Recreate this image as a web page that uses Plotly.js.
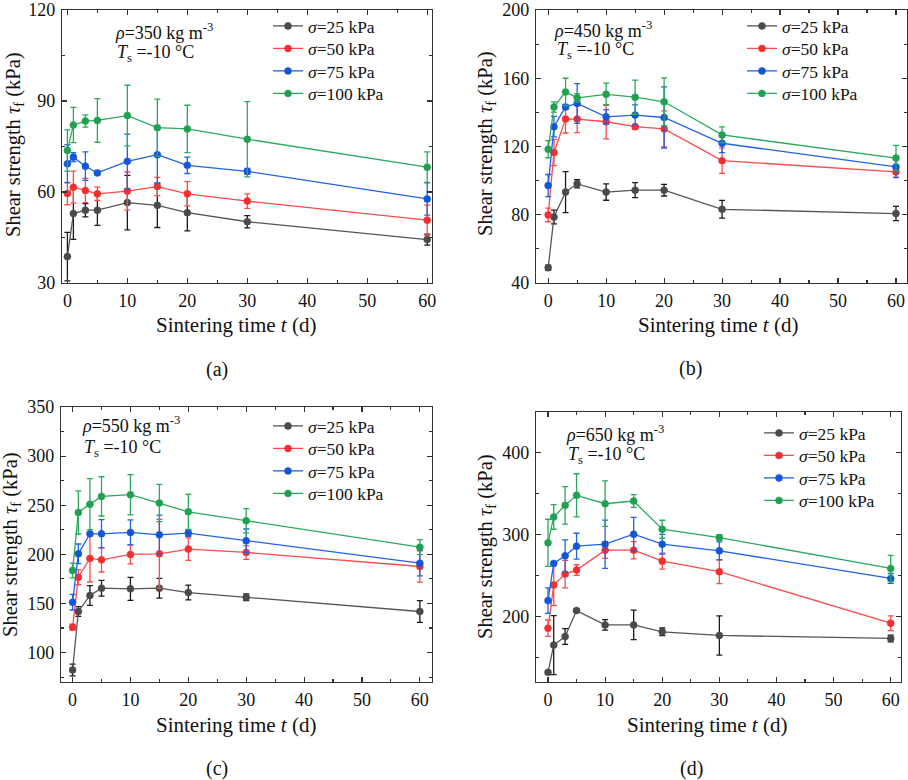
<!DOCTYPE html>
<html>
<head>
<meta charset="utf-8">
<script src="https://cdn.plot.ly/plotly-3.0.1.min.js"></script>
<style>
  body { margin: 0; padding: 0; background: #fff; }
  #chart { width: 908px; height: 780px; }
</style>
</head>
<body>
<div id="chart"></div>
<script>
// sintering time (d)
var t = [0, 1, 3, 5, 10, 15, 20, 30, 60];

var stressLabels = ['25', '50', '75', '100'];
var densityLabels = ['350', '450', '550', '650'];
var panelLabels = ['(a)', '(b)', '(c)', '(d)'];

// (a) rho = 350 kg m-3
var a25 = [38.7, 52.9, 54.0, 54.0, 56.5, 55.6, 53.2, 50.2, 44.3];
var a25err = [8, 8.5, 2.2, 5, 9, 7.3, 6, 2, 1.8];
var a50 = [59.5, 61.6, 60.5, 59.4, 60.3, 61.8, 59.4, 57.0, 50.7];
var a50err = [3.7, 5.3, 4, 2.2, 6.3, 3, 4, 2.4, 5];
var a75 = [69.3, 71.5, 68.5, 66.3, 70.1, 72.3, 68.8, 66.8, 57.7];
var a75err = [6.3, 1.5, 4.7, 0.6, 9, 9.5, 2.7, 1, 5.3];
var a100 = [73.7, 82.1, 83.4, 83.6, 85.2, 81.2, 80.8, 77.4, 68.2];
var a100err = [6.8, 5.8, 2, 7.2, 10, 9.4, 7.8, 12.4, 5];

// (b) rho = 450 kg m-3
var b25 = [48.9, 78.7, 93.3, 98.1, 93.3, 94.4, 94.4, 83.2, 80.7];
var b25err = [1.5, 4, 12, 2.4, 4.8, 4.4, 3.4, 5.2, 4.2];
var b50 = [79.9, 116.5, 136.1, 136.1, 134.5, 131.6, 130.3, 111.7, 105.1];
var b50err = [4, 7.7, 8.2, 8, 10, 1.5, 10.6, 7.5, 3];
var b75 = [97.1, 131.6, 143.2, 145.2, 137.4, 138.4, 137.0, 121.9, 108.0];
var b75err = [6.5, 6, 1.3, 11.6, 4.2, 6, 18, 5.5, 6.2];
var b100 = [118.4, 143.2, 152.0, 148.5, 150.6, 148.9, 146.2, 126.8, 113.2];
var b100err = [5, 3, 8, 2.5, 6.5, 10, 14, 4.7, 7.5];

// (c) rho = 550 kg m-3
var c25 = [82.3, 141.8, 158.1, 165.5, 164.9, 165.5, 161.1, 156.4, 141.8];
var c25err = [6, 5, 10, 8, 11.7, 10, 7.5, 3.4, 11];
var c50 = [125.8, 176.7, 195.8, 194.4, 199.9, 200.5, 205.3, 201.9, 187.6];
var c50err = [3, 7.7, 24, 12.4, 9.7, 35, 11.4, 7, 16];
var c75 = [151.3, 200.5, 220.9, 220.9, 222.3, 219.9, 221.6, 213.8, 191.0];
var c75err = [8, 10, 1.5, 14.4, 12.7, 20, 3.4, 12, 13];
var c100 = [183.6, 242.7, 251.1, 259.0, 260.7, 252.2, 243.3, 234.2, 207.3];
var c100err = [7.5, 22, 26, 20, 20.5, 19, 18, 12.4, 7.6];

// (d) rho = 650 kg m-3
var d25 = [131.8, 165.1, 175.6, 207.3, 189.8, 189.8, 181.3, 176.9, 173.2];
var d25err = [2, 36, 9.7, 2.2, 6.5, 18, 4.7, 24, 4.2];
var d50 = [185.8, 238.5, 251.9, 256.8, 281.1, 281.1, 267.7, 254.8, 191.9];
var d50err = [10, 25, 16.8, 6.5, 10, 10.5, 9.7, 14.6, 9];
var d75 = [219.5, 264.9, 274.2, 286.0, 288.4, 300.6, 288.4, 280.3, 246.6];
var d75err = [15.6, 1.6, 19.5, 15.8, 29.5, 20.7, 12, 11, 6];
var d100 = [290.1, 321.7, 335.9, 348.1, 337.9, 341.2, 306.7, 296.5, 258.8];
var d100err = [28.8, 15, 23, 26.4, 27.8, 7.7, 11, 3.5, 16];

var panels = [
  [[a25, a25err], [a50, a50err], [a75, a75err], [a100, a100err]],
  [[b25, b25err], [b50, b50err], [b75, b75err], [b100, b100err]],
  [[c25, c25err], [c50, c50err], [c75, c75err], [c100, c100err]],
  [[d25, d25err], [d50, d50err], [d75, d75err], [d100, d100err]]
];

var lineColors = ['#555555', '#ff4a4a', '#1f63e6', '#2aaa5c'];
var barColors = ['#1a1a1a', '#ff4a4a', '#1f63e6', '#2aaa5c'];
var markColors = ['#4a4a4a', '#f03030', '#1556d8', '#22a052'];

var W = 908, H = 780;
function px(x) { return x / W; }
function py(y) { return 1 - y / H; }

var serif = '"Liberation Serif", serif';

// plot frames in pixels: [left, right, top, bottom]
var frames = [[62, 432, 10, 283], [536, 907, 10, 283], [61, 432, 407, 682], [536, 901, 412, 682]];
var xRanges = [[-0.9, 60.8], [-2.1, 61.9], [-2, 62.1], [-2.1, 61.8]];
var yRanges = [[30, 120], [40, 200], [70, 350], [120, 450]];
var yDticks = [30, 40, 50, 100];

// legend: left x and first row centre y (px), row step 22.5 px
var legendPos = [[268, 25], [742, 25], [268, 425], [759, 432]];
var legendStep = 22.5;

var layout = {
  width: W, height: H,
  margin: {l: 0, r: 0, t: 0, b: 0},
  paper_bgcolor: '#fff', plot_bgcolor: '#fff',
  font: {family: serif, size: 18, color: '#111'},
  showlegend: true,
  annotations: []
};

var data = [];
panels.forEach(function (series, p) {
  var sfx = p === 0 ? '' : String(p + 1);
  series.forEach(function (s, k) {
    var n = p * 4 + k + 1;
    var lg = 'legend' + (n === 1 ? '' : String(n));
    data.push({
      type: 'scatter',
      mode: 'lines+markers',
      name: '<i>σ</i>=' + stressLabels[k] + ' kPa',
      x: t,
      y: s[0],
      error_y: {type: 'data', array: s[1], visible: true, color: barColors[k], thickness: 1.3, width: 3},
      line: {color: lineColors[k], width: 1.3},
      marker: {color: markColors[k], size: 7, line: {color: markColors[k], width: 0.5}},
      xaxis: 'x' + sfx,
      yaxis: 'y' + sfx,
      legend: lg,
      showlegend: true
    });
    layout[lg] = {
      x: px(legendPos[p][0]), y: py(legendPos[p][1] + k * legendStep - 17),
      xanchor: 'left', yanchor: 'top',
      bgcolor: 'rgba(0,0,0,0)', borderwidth: 0,
      font: {family: serif, size: 17.5, color: '#111'}
    };
  });
});

function axis(p, isX) {
  var f = frames[p];
  var a = {
    showline: true, linecolor: '#333', linewidth: 1.2, mirror: 'ticks',
    ticks: 'inside', ticklen: 5, tickwidth: 1.1, tickcolor: '#333',
    showgrid: false, zeroline: false, ticklabeloverflow: 'allow',
    tickfont: {family: serif, size: 18, color: '#111'},
    minor: {ticks: 'inside', ticklen: 3, tickcolor: '#333', showgrid: false}
  };
  if (isX) {
    a.domain = [px(f[0]), px(f[1])];
    a.range = xRanges[p];
    a.dtick = 10; a.tick0 = 0;
    a.minor.dtick = 5;
    a.ticklabelstandoff = 1;
  } else {
    a.domain = [py(f[3]), py(f[2])];
    a.range = yRanges[p];
    a.dtick = yDticks[p]; a.tick0 = 0;
    a.minor.dtick = yDticks[p] / 2;
    a.ticklabelstandoff = 2;
  }
  a.anchor = (isX ? 'y' : 'x') + (p === 0 ? '' : String(p + 1));
  return a;
}

for (var p = 0; p < 4; p++) {
  var sfx = p === 0 ? '' : String(p + 1);
  layout['xaxis' + sfx] = axis(p, true);
  layout['yaxis' + sfx] = axis(p, false);
}

// text positions in pixels
var rhoPos = [[113, 32], [552, 30], [80, 425], [564, 433]];
var tsPos = [[115, 54], [555, 51], [82, 449], [566, 455]];
var xTitlePos = [[236, 325], [718, 325], [236, 725], [707, 725]];
var yTitlePos = [[14, 145], [486, 144], [11, 545], [486, 547]];
var capPos = [[217, 369], [690, 368], [217, 768], [691, 768]];

for (var q = 0; q < 4; q++) {
  layout.annotations.push({
    xref: 'paper', yref: 'paper', x: px(rhoPos[q][0]), y: py(rhoPos[q][1]),
    xanchor: 'left', yanchor: 'middle', showarrow: false,
    text: '<i>ρ</i>=' + densityLabels[q] + ' kg m<sup>-3</sup>',
    font: {family: serif, size: 18, color: '#111'}
  });
  layout.annotations.push({
    xref: 'paper', yref: 'paper', x: px(tsPos[q][0]), y: py(tsPos[q][1]),
    xanchor: 'left', yanchor: 'middle', showarrow: false,
    text: '<i>T</i><sub>s</sub> =-10 °C',
    font: {family: serif, size: 18, color: '#111'}
  });
  layout.annotations.push({
    xref: 'paper', yref: 'paper', x: px(xTitlePos[q][0]), y: py(xTitlePos[q][1]),
    xanchor: 'center', yanchor: 'middle', showarrow: false,
    text: 'Sintering time <i>t</i> (d)',
    font: {family: serif, size: 21, color: '#111'}
  });
  layout.annotations.push({
    xref: 'paper', yref: 'paper', x: px(yTitlePos[q][0]), y: py(yTitlePos[q][1]),
    xanchor: 'center', yanchor: 'middle', showarrow: false, textangle: -90,
    text: 'Shear strength <i>τ</i><sub>f</sub> (kPa)',
    font: {family: serif, size: 20.5, color: '#111'}
  });
  layout.annotations.push({
    xref: 'paper', yref: 'paper', x: px(capPos[q][0]), y: py(capPos[q][1]),
    xanchor: 'center', yanchor: 'middle', showarrow: false,
    text: panelLabels[q],
    font: {family: serif, size: 20, color: '#111'}
  });
}

var config = {displayModeBar: false, responsive: false, staticPlot: true};
Plotly.newPlot('chart', data, layout, config);
</script>
</body>
</html>
